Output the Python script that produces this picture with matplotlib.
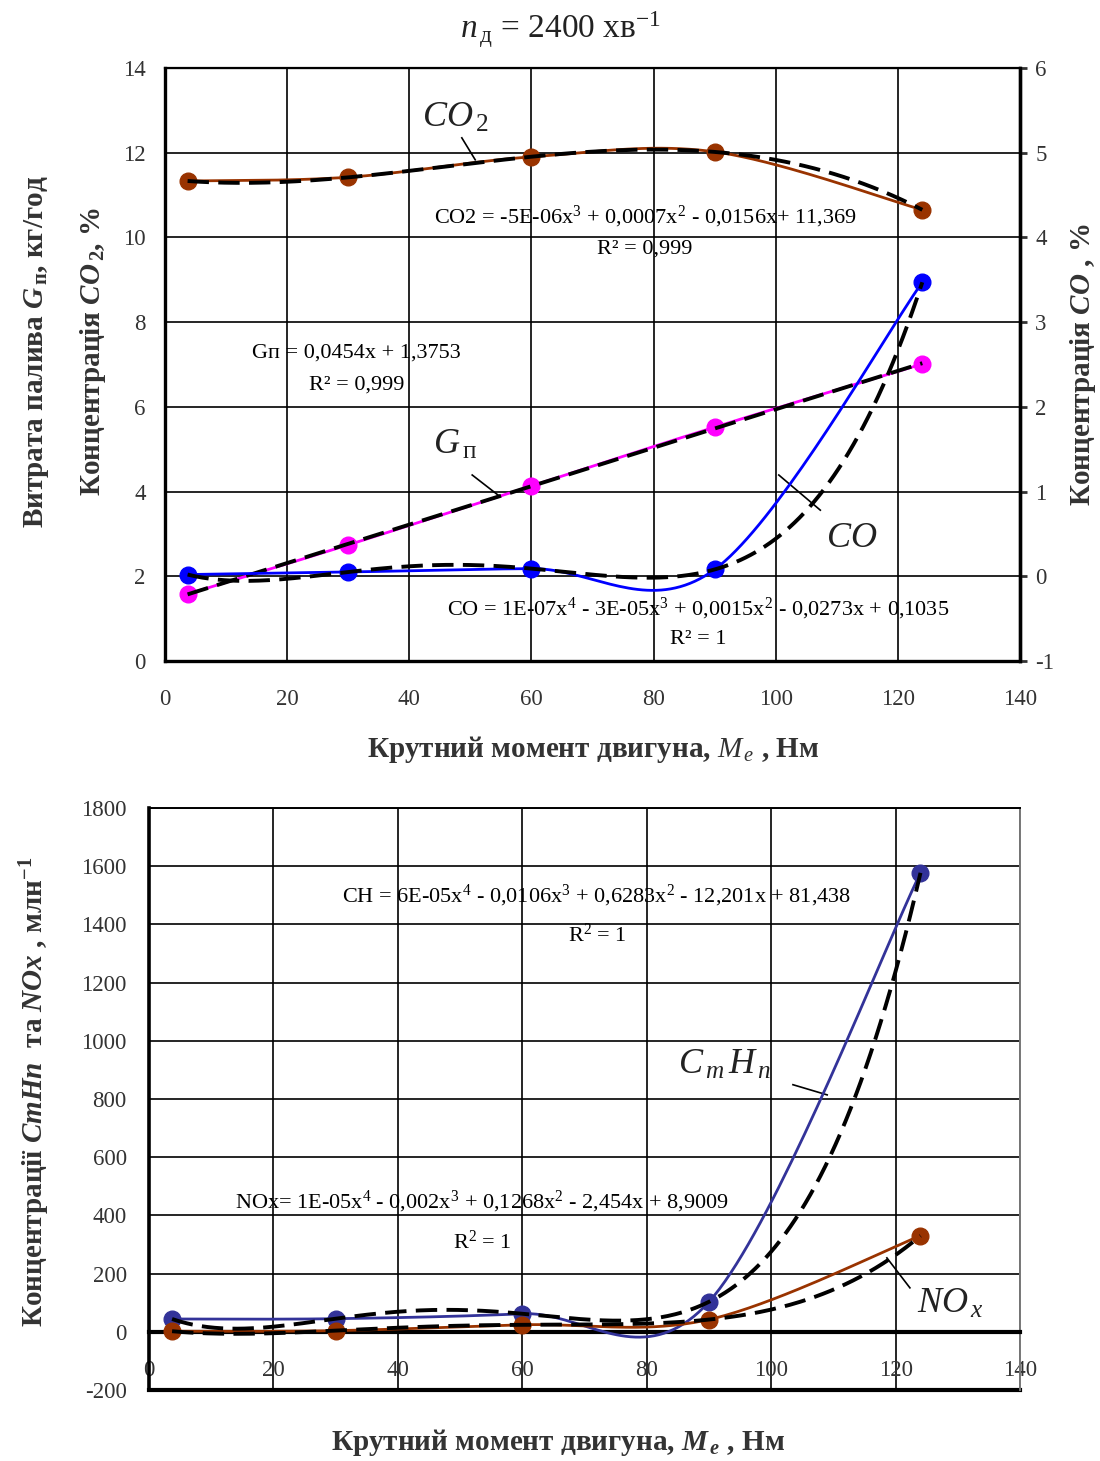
import numpy as np
import matplotlib
matplotlib.use('Agg')
import matplotlib.pyplot as plt

plt.rcParams['font.family'] = ['Liberation Serif', 'DejaVu Serif']
plt.rcParams['mathtext.fontset'] = 'custom'
plt.rcParams['mathtext.rm'] = 'Liberation Serif'
plt.rcParams['mathtext.it'] = 'Liberation Serif:italic'
plt.rcParams['mathtext.bf'] = 'Liberation Serif:bold'
plt.rcParams['mathtext.bfit'] = 'Liberation Serif:italic:bold'
plt.rcParams['axes.unicode_minus'] = False

# torque, N*m
torque = [3.7, 30, 60, 90, 124]
# top chart
fuel = [1.58, 2.74, 4.13, 5.52, 7.01]        # Gп, kg/h (left axis)
co2 = [11.33, 11.42, 11.90, 12.02, 10.65]    # CO2, % (left axis)
co = [0.02, 0.05, 0.09, 0.08, 3.47]          # CO, % (right axis)
# bottom chart
ch = [44, 45, 62, 103, 1577]                 # CmHn, ppm
nox = [2, 4, 24, 42, 330]                    # NOx, ppm

MAGENTA = '#FF00FF'
BROWN = '#993300'
BLUE = '#0000FF'
NAVY = '#333399'
DASH = (5.5, 2.4)
TICK_FS = 16.5
EQ_FS = 16
LABEL_FS = 21
NOTE_FS = 26


def smooth(x, y, n=40):
    # excel-like smoothed line (bezier, tension 1/6)
    pts = np.column_stack([x, y]).astype(float)
    out = [pts[0]]
    t = np.linspace(0, 1, n)[1:, None]
    for i in range(len(pts) - 1):
        p0 = pts[i - 1] if i > 0 else pts[i]
        p1, p2 = pts[i], pts[i + 1]
        p3 = pts[i + 2] if i + 2 < len(pts) else pts[i + 1]
        c1 = p1 + (p2 - p0) / 6
        c2 = p2 - (p3 - p1) / 6
        seg = (1 - t) ** 3 * p1 + 3 * (1 - t) ** 2 * t * c1 + 3 * (1 - t) * t ** 2 * c2 + t ** 3 * p2
        out.extend(seg)
    out = np.array(out)
    return out[:, 0], out[:, 1]


def series(ax, x, y, color, order):
    sx, sy = smooth(x, y)
    ax.plot(sx, sy, color=color, lw=2, zorder=3)
    ax.plot(x, y, 'o', color=color, ms=12, zorder=4)
    coef = np.polyfit(x, y, order)
    tx = np.linspace(min(x), max(x), 300)
    ax.plot(tx, np.polyval(coef, tx), color='black', lw=2.8, dashes=DASH, zorder=5)


fig = plt.figure(figsize=(11, 14.61), dpi=100)

# ---------- top chart ----------
ax1 = fig.add_axes([0.15, 0.5476, 0.7773, 0.4059])
ax1.set_xlim(0, 140)
ax1.set_ylim(0, 14)
ax1.set_xticks(range(0, 141, 20))
ax1.set_yticks(range(0, 15, 2))
ax1.grid(True, color='black', lw=1.2)
ax1.set_axisbelow(True)
ax1.tick_params(length=0, labelsize=TICK_FS, colors='#333333')
ax1.tick_params(axis='x', pad=20)
ax1.tick_params(axis='y', pad=14)
for s in ['left', 'bottom', 'right']:
    ax1.spines[s].set_linewidth(2.4)
ax1.spines['top'].set_linewidth(1.6)

ax2 = ax1.twinx()
ax2.set_ylim(-1, 6)
ax2.set_yticks(range(-1, 7))
ax2.tick_params(direction='out', length=5, width=2, labelsize=TICK_FS, colors='#333333', pad=6)
ax2.spines['right'].set_linewidth(2.4)

series(ax1, torque, co2, BROWN, 3)
series(ax1, torque, fuel, MAGENTA, 1)
series(ax2, torque, co, BLUE, 4)

ax1.text(47.5, 12.82, r'$\mathit{CO}_{\,\mathrm{2}}$', fontsize=NOTE_FS, ha='center', va='center', color='#222222')
ax1.plot([48.6, 50.8], [12.35, 11.83], color='black', lw=1.2)
ax1.text(78.6, 10.48, 'CO2 = -5E-06x$^{3}$ + 0,0007x$^{2}$ - 0,0156x+ 11,369', fontsize=EQ_FS,
         ha='center', va='center')
ax1.text(78.6, 9.73, 'R² = 0,999', fontsize=EQ_FS, ha='center', va='center')
ax1.text(31.4, 7.27, 'Gп = 0,0454x + 1,3753', fontsize=EQ_FS, ha='center', va='center')
ax1.text(31.4, 6.52, 'R² = 0,999', fontsize=EQ_FS, ha='center', va='center')
ax1.text(47.5, 5.1, r'$G_{\,\mathrm{п}}$', fontsize=NOTE_FS, ha='center', va='center', color='#222222')
ax1.plot([50.3, 54.5], [4.39, 3.92], color='black', lw=1.2)
ax1.text(112.5, 2.9, r'$CO$', fontsize=NOTE_FS, ha='center', va='center', color='#222222')
ax1.plot([100.5, 107.3], [4.39, 3.56], color='black', lw=1.2)
ax1.text(87.3, 1.23, 'CO = 1E-07x$^{4}$ - 3E-05x$^{3}$ + 0,0015x$^{2}$ - 0,0273x + 0,1035', fontsize=EQ_FS,
         ha='center', va='center')
ax1.text(87.3, 0.5, 'R² = 1', fontsize=EQ_FS, ha='center', va='center')

fig.text(560 / 1100, 1 - 30 / 1461, r'$n_{\,\mathrm{д}}$ = 2400 хв$^{-1}$', fontsize=24,
         ha='center', va='center', color='#222222')
fig.text(37 / 1100, 1 - 352 / 1461, r'Витрата палива $\mathbfit{G}_{\,\mathbf{п}}$, кг/год', rotation=90,
         fontsize=LABEL_FS, fontweight='bold', ha='center', va='center', color='#333333')
fig.text(93 / 1100, 1 - 352 / 1461, r'Концентрація $\mathbfit{CO}_{\,\mathbf{2}}$, %', rotation=90,
         fontsize=LABEL_FS, fontweight='bold', ha='center', va='center', color='#333333')
fig.text(1083 / 1100, 1 - 365 / 1461, r'Концентрація $\mathbfit{CO}$ , %', rotation=90,
         fontsize=LABEL_FS, fontweight='bold', ha='center', va='center', color='#333333')
fig.text(593 / 1100, 1 - 750 / 1461, r'Крутний момент двигуна, $\mathit{M}_{\,\mathit{e}}$ , Нм',
         fontsize=LABEL_FS, fontweight='bold', ha='center', va='center', color='#333333')

# ---------- bottom chart ----------
ax3 = fig.add_axes([0.1355, 0.0486, 0.7918, 0.3984])
ax3.set_xlim(0, 140)
ax3.set_ylim(-200, 1800)
ax3.set_xticks(range(0, 141, 20))
ax3.set_yticks(range(-200, 1801, 200))
ax3.grid(True, color='black', lw=1.2)
ax3.set_axisbelow(True)
ax3.tick_params(length=0, labelsize=TICK_FS, colors='#333333')
ax3.tick_params(axis='x', pad=20)
ax3.tick_params(axis='y', pad=16)
ax3.spines['bottom'].set_position(('data', 0))
ax3.spines['bottom'].set_linewidth(3)
ax3.spines['left'].set_linewidth(2.6)
ax3.spines['top'].set_linewidth(1.4)
ax3.spines['right'].set_linewidth(1.4)
ax3.spines['right'].set_color('#777777')
ax3.axhline(-200, color='black', lw=3, clip_on=False)

series(ax3, torque, ch, NAVY, 4)
series(ax3, torque, nox, BROWN, 4)

ax3.text(72, 1498, 'CH = 6E-05x$^{4}$ - 0,0106x$^{3}$ + 0,6283x$^{2}$ - 12,201x + 81,438', fontsize=EQ_FS,
         ha='center', va='center')
ax3.text(72, 1361, 'R$^{2}$ = 1', fontsize=EQ_FS, ha='center', va='center')
ax3.text(53.5, 447, 'NOx= 1E-05x$^{4}$ - 0,002x$^{3}$ + 0,1268x$^{2}$ - 2,454x + 8,9009', fontsize=EQ_FS,
         ha='center', va='center')
ax3.text(53.5, 309, 'R$^{2}$ = 1', fontsize=EQ_FS, ha='center', va='center')
ax3.text(92.6, 914, r'$C_{\,m}\,H_{\,n}$', fontsize=NOTE_FS, ha='center', va='center', color='#222222')
ax3.plot([103.5, 109], [849, 814], color='black', lw=1.2)
ax3.text(128.8, 93, r'$NO_{\,x}$', fontsize=NOTE_FS, ha='center', va='center', color='#222222')
ax3.plot([118.6, 122.3], [254, 151], color='black', lw=1.2)

fig.text(35 / 1100, 1 - 1092 / 1461, r'Концентрації $\mathbfit{CmHn}$  та $\mathbfit{NOx}$ , млн$^{\mathbf{-1}}$',
         rotation=90, fontsize=LABEL_FS, fontweight='bold', ha='center', va='center', color='#333333')
fig.text(558 / 1100, 1 - 1443 / 1461, r'Крутний момент двигуна, $\mathbfit{M}_{\,\mathbfit{e}}$ , Нм',
         fontsize=LABEL_FS, fontweight='bold', ha='center', va='center', color='#333333')

fig.savefig('out.png', dpi=100)
